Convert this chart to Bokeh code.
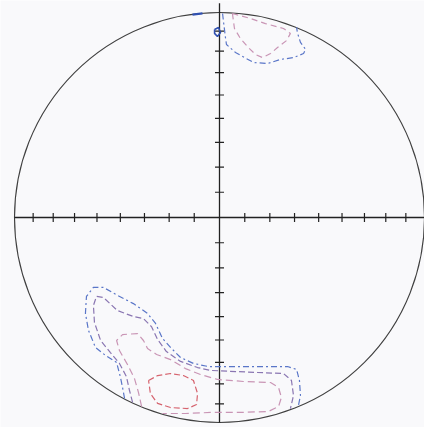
from bokeh.plotting import figure
from bokeh.models import Range1d
from bokeh.embed import file_html
from bokeh.resources import INLINE
import numpy as np

# ---- data: equal-area net, tick angles (deg) ----
tick_angles = [10, 20, 30, 40, 50, 60, 70, 80]

# ---- contour lines (net coordinates, unit primitive circle) ----
top_blue_x = [0.015, 0.020, 0.029, 0.034, 0.078, 0.166, 0.234, 0.298, 0.361, 0.410, 0.420, 0.395, 0.380, 0.376]
top_blue_y = [0.995, 0.951, 0.878, 0.844, 0.805, 0.756, 0.751, 0.771, 0.780, 0.800, 0.820, 0.854, 0.902, 0.927]

top_pink_x = [0.063, 0.151, 0.224, 0.312, 0.346, 0.327, 0.283, 0.249, 0.210, 0.176, 0.141, 0.102, 0.073, 0.063]
top_pink_y = [0.995, 0.971, 0.946, 0.922, 0.898, 0.863, 0.829, 0.800, 0.780, 0.795, 0.829, 0.873, 0.922, 0.995]

spot_blue_x = [-0.024, -0.005, 0.005, -0.010, -0.024, -0.024]
spot_blue_y = [0.917, 0.927, 0.902, 0.883, 0.898, 0.917]

rim_blue_x = [-0.132, -0.083]
rim_blue_y = [0.990, 0.996]

bot_blue_x = [-0.463, -0.473, -0.483, -0.502, -0.556, -0.605, -0.639, -0.654, -0.649, -0.615, -0.566,
              -0.498, -0.420, -0.351, -0.312, -0.278, -0.239, -0.190, -0.127, -0.054, 0.020, 0.185,
              0.332, 0.376, 0.390, 0.395, 0.385]
bot_blue_y = [-0.883, -0.829, -0.780, -0.707, -0.673, -0.634, -0.551, -0.468, -0.385, -0.341, -0.341,
              -0.380, -0.420, -0.468, -0.517, -0.590, -0.634, -0.683, -0.712, -0.727, -0.727, -0.727,
              -0.727, -0.741, -0.795, -0.868, -0.917]

bot_purple_x = [-0.424, -0.439, -0.454, -0.488, -0.532, -0.580, -0.610, -0.615, -0.600, -0.566, -0.498,
                -0.420, -0.371, -0.332, -0.302, -0.259, -0.190, -0.107, -0.044, 0.185, 0.312, 0.351,
                0.361, 0.346]
bot_purple_y = [-0.902, -0.844, -0.776, -0.712, -0.659, -0.600, -0.512, -0.429, -0.385, -0.390, -0.454,
                -0.483, -0.493, -0.532, -0.595, -0.654, -0.702, -0.732, -0.746, -0.756, -0.761, -0.795,
                -0.868, -0.932]

bot_pink_x = [-0.380, -0.395, -0.415, -0.449, -0.488, -0.502, -0.473, -0.400, -0.371, -0.351, -0.307,
              -0.239, -0.166, -0.093, -0.010, 0.117, 0.249, 0.288, 0.302, 0.288, 0.239, 0.102,
              -0.044, -0.166, -0.278]
bot_pink_y = [-0.922, -0.854, -0.785, -0.717, -0.649, -0.600, -0.571, -0.566, -0.600, -0.639, -0.668,
              -0.693, -0.737, -0.766, -0.790, -0.800, -0.805, -0.829, -0.878, -0.922, -0.946, -0.951,
              -0.951, -0.956, -0.956]

bot_red_x = [-0.346, -0.302, -0.239, -0.176, -0.127, -0.107, -0.112, -0.156, -0.239, -0.302, -0.337, -0.346]
bot_red_y = [-0.795, -0.771, -0.761, -0.771, -0.795, -0.859, -0.912, -0.932, -0.927, -0.907, -0.859, -0.795]

BG = "#f9f9fb"
W, H = 424, 427
CX, CY, R = 219.0, 217.0, 205.0
p = figure(width=W, height=H, output_backend="svg", toolbar_location=None,
           x_range=Range1d(-CX / R, (W - CX) / R), y_range=Range1d(-(H - CY) / R, CY / R),
           min_border=0)
p.axis.visible = False
p.grid.visible = False
p.outline_line_color = None
p.background_fill_color = BG
p.border_fill_color = BG

# primitive circle
p.circle(x=[0], y=[0], radius=1.0, fill_color=None, line_color="#404040", line_width=1.1)

# axes
p.line([-1.0, 1.1], [0, 0], line_color="#222222", line_width=1.3)
p.line([0, 0], [-1.0, 1.045], line_color="#222222", line_width=1.3)

r = [np.sqrt(2) * np.sin(np.radians(a) / 2) for a in tick_angles]
tl = 0.022
xs, ys = [], []
for rv in r:
    for s in (1, -1):
        xs.append([s * rv, s * rv]); ys.append([-tl, tl])
        xs.append([-tl, tl]); ys.append([s * rv, s * rv])
p.multi_line(xs, ys, line_color="#222222", line_width=1.2)

# contours
blue = "#5a76c8"
purple = "#8a76b2"
pink = "#c995b5"
red = "#d6646f"
p.line(top_blue_x, top_blue_y, line_color=blue, line_width=1.2, line_dash="6 3 2 3")
p.line(top_pink_x, top_pink_y, line_color=pink, line_width=1.2, line_dash="6 4")
p.line(spot_blue_x, spot_blue_y, line_color="#3050b0", line_width=1.6)
p.line(rim_blue_x, rim_blue_y, line_color="#3050b0", line_width=2.2)
p.line(bot_blue_x, bot_blue_y, line_color=blue, line_width=1.2, line_dash="6 3 2 3")
p.line(bot_purple_x, bot_purple_y, line_color=purple, line_width=1.2, line_dash="6 3")
p.line(bot_pink_x, bot_pink_y, line_color=pink, line_width=1.2, line_dash="7 4")
p.line(bot_red_x, bot_red_y, line_color=red, line_width=1.2, line_dash="6 3")

open("out.html", "w").write(file_html(p, INLINE))
